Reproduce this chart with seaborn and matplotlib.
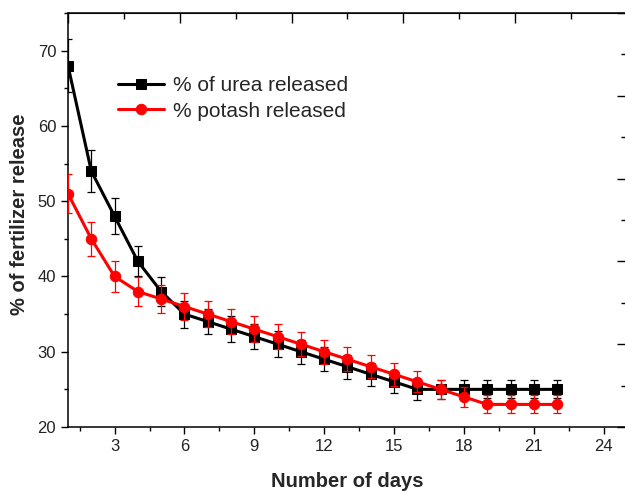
import numpy as np
import matplotlib
matplotlib.use("Agg")
import matplotlib.pyplot as plt
from matplotlib.ticker import MultipleLocator, NullFormatter
import pandas as pd
import seaborn as sns

days = list(range(1, 23))
urea = [68, 54, 48, 42, 38, 35, 34, 33, 32, 31, 30, 29, 28, 27, 26, 25, 25, 25, 25, 25, 25, 25]
urea_err = [3.5, 2.8, 2.4, 2.0, 1.9, 1.8, 1.7, 1.7, 1.7, 1.7, 1.6, 1.6, 1.6, 1.5, 1.5, 1.4,
            1.3, 1.2, 1.2, 1.2, 1.2, 1.2]
potash = [51, 45, 40, 38, 37, 36, 35, 34, 33, 32, 31, 30, 29, 28, 27, 26, 25, 24, 23, 23, 23, 23]
potash_err = [2.6, 2.25, 2.0, 1.95, 1.8, 1.8, 1.7, 1.7, 1.7, 1.7, 1.6, 1.6, 1.6, 1.5, 1.5, 1.4,
              1.3, 1.3, 1.2, 1.2, 1.2, 1.2]

df = pd.DataFrame({"day": days, "urea": urea, "potash": potash})

sns.set_style("ticks")
plt.rcParams['font.family'] = ['Liberation Sans', 'DejaVu Sans']

fig = plt.figure(figsize=(6.25, 4.91), dpi=100)
ax = fig.add_axes([68 / 625, 64 / 491, 559 / 625, 414 / 491])

ax.errorbar(days, urea, yerr=urea_err, fmt='none', ecolor='black', elinewidth=0.9,
            capsize=2.9, capthick=0.9, zorder=2)
sns.lineplot(data=df, x="day", y="urea", ax=ax, color="black", marker="s", markersize=6.5,
             markeredgecolor="black", linewidth=2.2, label="% of urea released", zorder=3)
ax.errorbar(days, potash, yerr=potash_err, fmt='none', ecolor='red', elinewidth=0.9,
            capsize=2.9, capthick=0.9, zorder=4)
sns.lineplot(data=df, x="day", y="potash", ax=ax, color="red", marker="o", markersize=7.5,
             markeredgecolor="red", linewidth=2.2, label="% potash released", zorder=5)

ax.set_xlim(1, 25)
ax.set_ylim(20, 75)
ax.xaxis.set_major_locator(MultipleLocator(3))
ax.xaxis.set_minor_locator(MultipleLocator(1.5))
ax.yaxis.set_major_locator(MultipleLocator(10))
ax.yaxis.set_minor_locator(MultipleLocator(5))
ax.set_xticks([3, 6, 9, 12, 15, 18, 21, 24])
ax.tick_params(which='both', direction='out', top=False, right=False, labelsize=12,
               color='black', labelcolor='#222222')
ax.tick_params(which='major', length=5, width=1)
ax.tick_params(which='minor', length=3, width=1)
for s in ax.spines.values():
    s.set_linewidth(1.1)
    s.set_color('black')

ax.set_xlabel("Number of days", fontsize=14.5, fontweight='bold', labelpad=13)
ax.set_ylabel("% of fertilizer release", fontsize=14.5, fontweight='bold')
ax.yaxis.set_label_coords(-0.070, 0.515)

# independent top / right tick frame (0..5 scale, no labels)
sx = ax.secondary_xaxis('top', functions=(lambda x: (x - 1) / 24 * 5,
                                          lambda t: t * 24 / 5 + 1))
sx.xaxis.set_major_locator(MultipleLocator(1))
sx.xaxis.set_minor_locator(MultipleLocator(0.5))
sx.xaxis.set_major_formatter(NullFormatter())
sx.tick_params(which='both', direction='in', color='black', width=1)
sx.tick_params(which='major', length=7)
sx.tick_params(which='minor', length=4)
sy = ax.secondary_yaxis('right', functions=(lambda y: (y - 20) / 55 * 5,
                                            lambda t: t * 55 / 5 + 20))
sy.yaxis.set_major_locator(MultipleLocator(1))
sy.yaxis.set_minor_locator(MultipleLocator(0.5))
sy.yaxis.set_major_formatter(NullFormatter())
sy.tick_params(which='both', direction='in', color='black', width=1)
sy.tick_params(which='major', length=7)
sy.tick_params(which='minor', length=4)

ax.legend(loc='upper left', bbox_to_anchor=(0.0754, 0.867), frameon=False, fontsize=15,
          handlelength=2.2, handletextpad=0.4, labelspacing=0.3, borderaxespad=0)

fig.savefig("out.png", dpi=100)
